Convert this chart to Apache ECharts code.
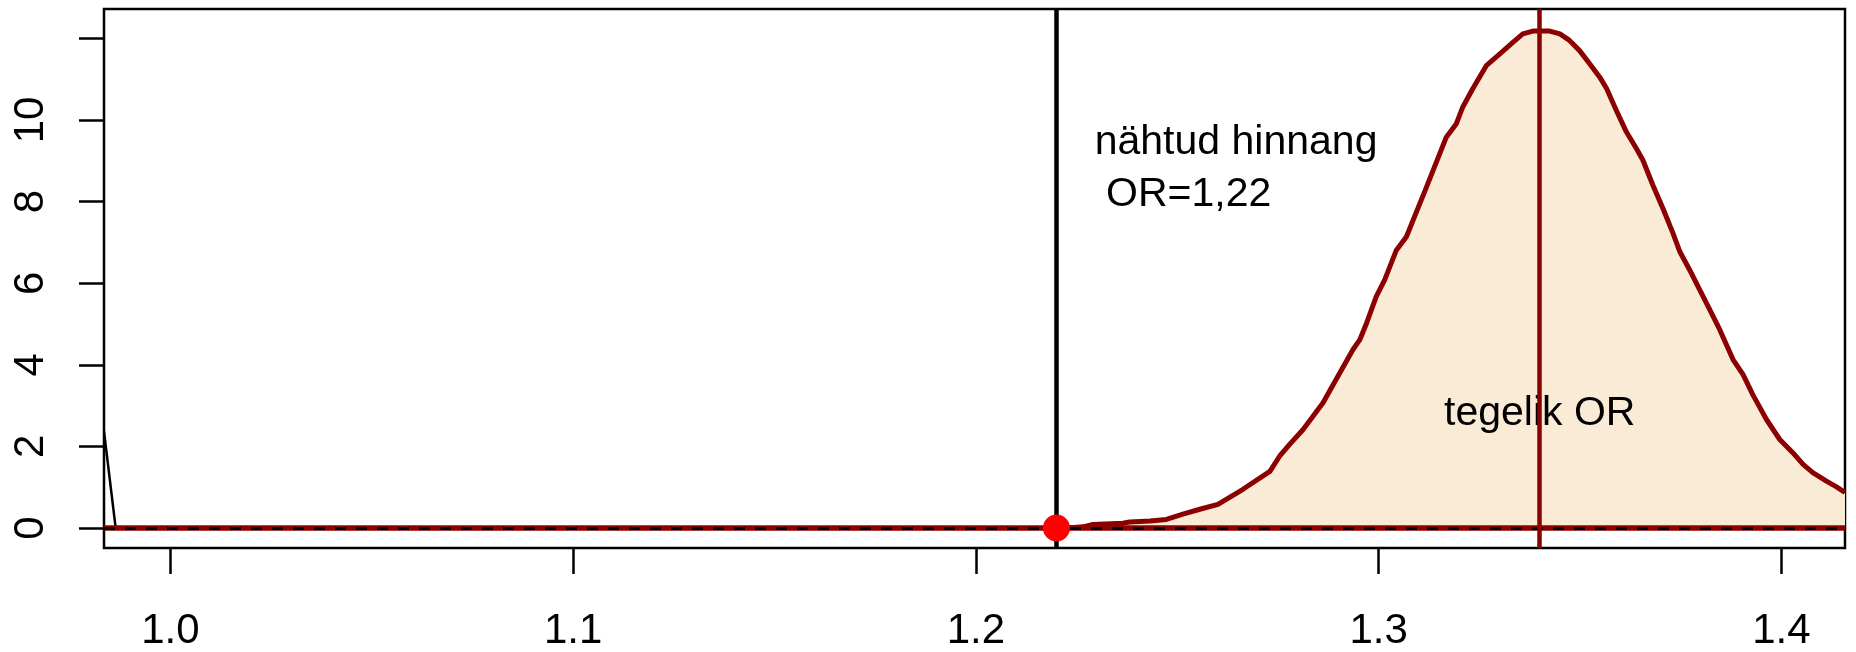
<!DOCTYPE html>
<html>
<head>
  <meta charset="utf-8">
  <title>OR jaotus</title>
  <script src="https://cdn.jsdelivr.net/npm/echarts@6/dist/echarts.min.js"></script>
  <style>
    body { margin: 0; background: #fff; }
  </style>
</head>
<body>
  <div id="main" style="width:1856px;height:652px;"></div>
  <script type="text/javascript">
    // telgede jaotised
    var xTicks = [1.0, 1.1, 1.2, 1.3, 1.4];
    var yTicks = [0, 2, 4, 6, 8, 10, 12];
    var yLabels = [0, 2, 4, 6, 8, 10];

    // tegeliku OR-i tihedus (loetud pildilt)
    var densX = [1.2228, 1.2266, 1.2291, 1.2365, 1.2382, 1.2432, 1.2473, 1.2514, 1.2556, 1.2601,
      1.2663, 1.2730, 1.2754, 1.2779, 1.2812, 1.2837, 1.2862, 1.2887, 1.2908, 1.2936,
      1.2953, 1.2970, 1.2994, 1.3015, 1.3044, 1.3069, 1.3119, 1.3168, 1.3193, 1.3209,
      1.3234, 1.3268, 1.3301, 1.3334, 1.3358, 1.3383, 1.3425, 1.3450, 1.3474, 1.3499,
      1.3524, 1.3549, 1.3566, 1.3590, 1.3615, 1.3640, 1.3656, 1.3681, 1.3706, 1.3731,
      1.3748, 1.3772, 1.3797, 1.3814, 1.3847, 1.3880, 1.3905, 1.3929, 1.3963, 1.3996,
      1.4029, 1.4054, 1.4078, 1.4112, 1.4137, 1.4158];
    var densY = [0, 0.03, 0.09, 0.12, 0.15, 0.17, 0.21, 0.34, 0.46, 0.58,
      0.95, 1.39, 1.76, 2.05, 2.41, 2.74, 3.07, 3.51, 3.88, 4.37,
      4.61, 5.02, 5.67, 6.08, 6.81, 7.14, 8.36, 9.58, 9.91, 10.32,
      10.77, 11.34, 11.62, 11.91, 12.11, 12.18, 12.18, 12.11, 11.95, 11.70,
      11.38, 11.05, 10.77, 10.24, 9.71, 9.30, 9.02, 8.40, 7.83, 7.22,
      6.77, 6.33, 5.84, 5.51, 4.86, 4.13, 3.76, 3.27, 2.66, 2.17,
      1.84, 1.56, 1.36, 1.15, 1.01, 0.87];

    // nullhüpoteesi tiheduse saba vasakul servas
    var nullX = [0.9835, 0.9864];
    var nullY = [2.37, 0];

    var observedOR = 1.22;
    var trueOR = 1.34;

    var font = 'Liberation Sans, Arial, Helvetica, sans-serif';

    function zip(xs, ys) {
      var out = [];
      for (var i = 0; i < xs.length; i++) out.push([xs[i], ys[i]]);
      return out;
    }

    var myChart = echarts.init(document.getElementById('main'));

    var option = {
      animation: false,
      backgroundColor: '#fff',
      grid: {
        left: 104, right: 11, top: 9, bottom: 104,
        outerBoundsMode: 'none',
        show: true, borderColor: '#000', borderWidth: 2.5,
        backgroundColor: 'transparent'
      },
      xAxis: {
        type: 'value',
        min: 0.9835,
        max: 1.4158,
        axisLine: { show: false, onZero: false },
        splitLine: { show: false },
        axisTick: {
          show: true, length: 26, customValues: xTicks,
          lineStyle: { color: '#000', width: 2.5 }
        },
        axisLabel: {
          customValues: xTicks,
          formatter: function (v) { return v.toFixed(1); },
          color: '#000', fontSize: 42, fontFamily: font,
          verticalAlign: 'middle', margin: 83
        }
      },
      yAxis: {
        type: 'value',
        min: -0.489,
        max: 12.72,
        axisLine: { show: false, onZero: false },
        splitLine: { show: false },
        axisTick: {
          show: true, length: 25, customValues: yTicks,
          lineStyle: { color: '#000', width: 2.5 }
        },
        axisLabel: {
          customValues: yLabels,
          formatter: function (v) { return String(v); },
          rotate: 90,
          align: 'center', verticalAlign: 'middle',
          color: '#000', fontSize: 42, fontFamily: font,
          margin: 73
        }
      },
      series: [
        {
          name: 'tegelik',
          type: 'line',
          data: zip(densX, densY),
          showSymbol: false,
          lineStyle: { color: '#8B0000', width: 5, join: 'round' },
          areaStyle: { color: '#FAEBD7', opacity: 1 },
          z: 2,
          markLine: {
            silent: true,
            symbol: 'none',
            label: { show: false },
            z: 5,
            data: [
              { yAxis: 0, lineStyle: { color: '#8B0000', width: 5.5, type: 'solid' } },
              { yAxis: 0, lineStyle: { color: '#000', width: 3, type: [11, 10] } },
              { xAxis: observedOR, lineStyle: { color: '#000', width: 4.5, type: 'solid' } },
              { xAxis: trueOR, lineStyle: { color: '#8B0000', width: 4.5, type: 'solid' } }
            ]
          }
        },
        {
          name: 'null',
          type: 'line',
          data: zip(nullX, nullY),
          showSymbol: false,
          lineStyle: { color: '#000', width: 2.5 },
          z: 3
        },
        {
          name: 'tekstid',
          type: 'scatter',
          symbolSize: 0,
          itemStyle: { opacity: 1 },
          z: 4,
          silent: true,
          data: [
            {
              value: [1.2295, 8.81],
              label: {
                show: true, position: 'right', distance: 0,
                formatter: 'nähtud hinnang\n OR=1,22',
                color: '#000', fontSize: 41, lineHeight: 52, fontFamily: font
              }
            },
            {
              value: [trueOR, 2.8],
              label: {
                show: true, position: 'inside',
                formatter: 'tegelik OR',
                color: '#000', fontSize: 41, fontFamily: font
              }
            }
          ]
        },
        {
          name: 'hinnang',
          type: 'scatter',
          data: [[observedOR, 0]],
          symbolSize: 27,
          itemStyle: { color: '#FF0000', opacity: 1 },
          z: 10
        }
      ]
    };

    myChart.setOption(option);
  </script>
</body>
</html>
